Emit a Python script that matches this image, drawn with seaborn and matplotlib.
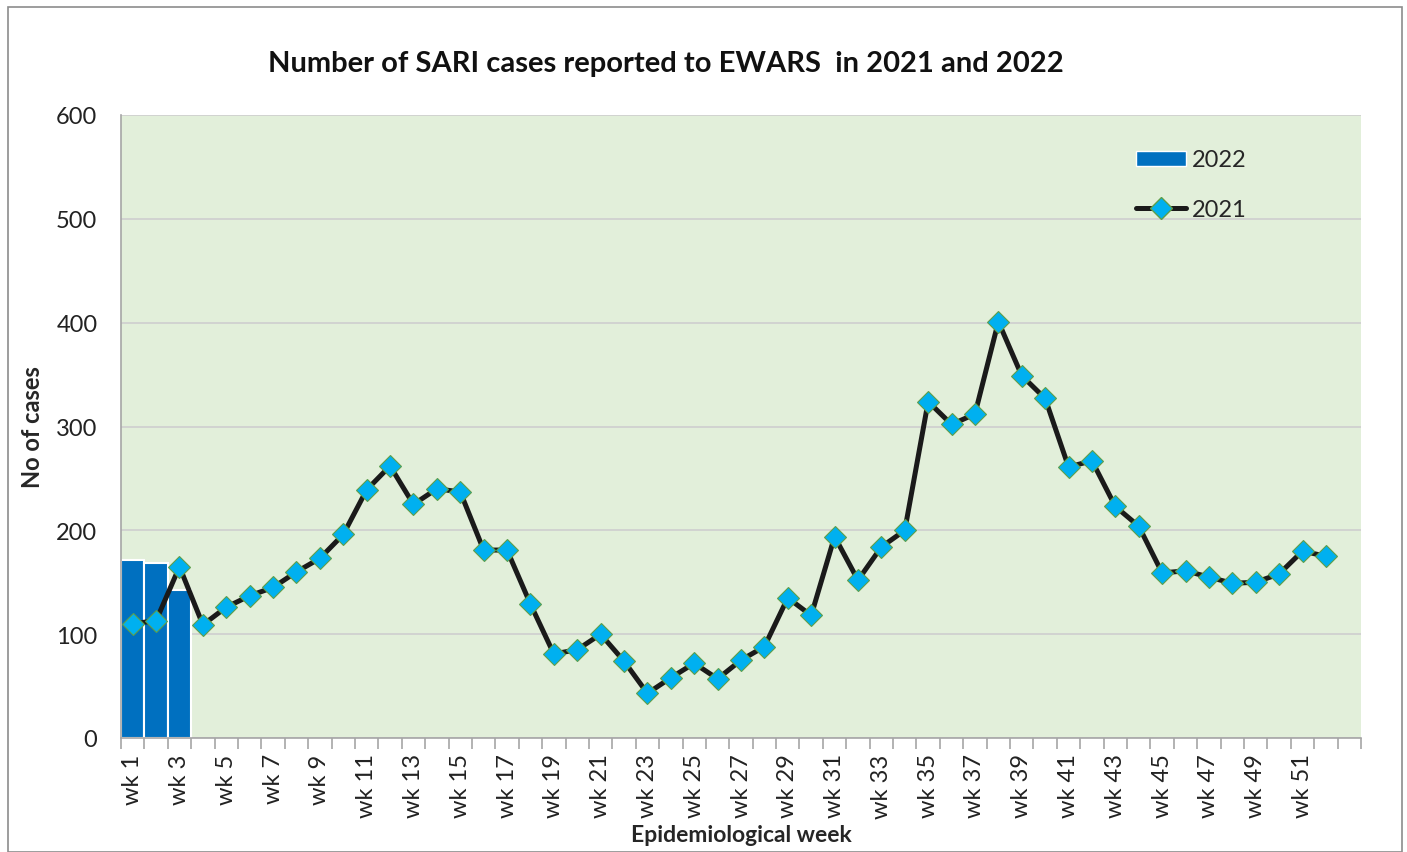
import numpy as np
import pandas as pd
import matplotlib
matplotlib.use("Agg")
import matplotlib.pyplot as plt
from matplotlib.patches import Rectangle, Patch
from matplotlib.lines import Line2D
import seaborn as sns

weeks = [f"wk {i}" for i in range(1, 54)]  # 53 category slots, last one empty
cases_2021 = [110, 113, 165, 109, 126, 137, 145, 160, 173, 196,
              239, 262, 225, 240, 237, 181, 181, 129, 81, 85,
              100, 74, 43, 58, 72, 57, 75, 88, 135, 118,
              194, 152, 184, 200, 324, 302, 312, 401, 349, 327,
              261, 267, 223, 204, 159, 161, 155, 149, 150, 158,
              180, 175]
weeks_2022 = ["wk 1", "wk 2", "wk 3"]
cases_2022 = [171, 169, 143]
tick_labels = [weeks[i] for i in range(0, 52, 2)]

sns.set_theme(style="white")
plt.rcParams['font.family'] = ['Lato', 'DejaVu Sans']

fig = plt.figure(figsize=(14.07, 8.53), dpi=100)
ax = fig.add_axes([121/1407, 1-739/853, (1361-121)/1407, (739-116)/853])
ax.set_facecolor("#E2EFDA")

# figure border
fig.patches.append(Rectangle((8/1407, 0), (1402-8)/1407, (853-8)/853, transform=fig.transFigure,
                             fill=False, edgecolor="#8C8C8C", linewidth=1.2))

df22 = pd.DataFrame({"week": weeks_2022, "cases": cases_2022})
sns.barplot(data=df22, x="week", y="cases", order=weeks, color="#0070C0",
            saturation=1, width=1.0, edgecolor="white", linewidth=1.5, ax=ax, zorder=2)

df21 = pd.DataFrame({"pos": np.arange(len(cases_2021)), "cases": cases_2021})
sns.lineplot(data=df21, x="pos", y="cases", color="#1A1A1A", linewidth=3.6,
             marker="D", markersize=11, markerfacecolor="#00B0F0",
             markeredgecolor="#5E9E4A", markeredgewidth=0.8, ax=ax, zorder=3)

n = len(weeks)
ax.set_xlim(-0.5, n - 0.5)
ax.set_ylim(0, 600)
ax.set_yticks(np.arange(0, 601, 100))
ax.yaxis.grid(True, color="#D0D0D0", linewidth=1.3)
ax.set_axisbelow(True)
ax.tick_params(axis="y", labelsize=17, colors="#222222", length=0, pad=17)

ax.set_xticks(np.arange(0, 52, 2))
ax.set_xticklabels(tick_labels, rotation=90, fontsize=17, color="#222222")
ax.set_xticks(np.arange(-0.5, n, 1), minor=True)
ax.tick_params(axis="x", which="major", length=0, pad=11)
ax.tick_params(axis="x", which="minor", length=8, width=1.2, color="#A6A6A6", direction="out", bottom=True)

for s in ["top", "right"]:
    ax.spines[s].set_visible(False)
for s in ["left", "bottom"]:
    ax.spines[s].set_color("#A6A6A6")
    ax.spines[s].set_linewidth(1.2)

ax.set_xlabel("Epidemiological week", fontsize=16.5, fontweight="bold", labelpad=5)
ax.set_ylabel("No of cases", fontsize=17, fontweight="bold", labelpad=9)
fig.text(666/1407, 1-64/853, "Number of SARI cases reported to EWARS  in 2021 and 2022",
         ha="center", va="center", fontsize=21, fontweight="bold", color="#111111")

handles = [Patch(facecolor="#0070C0", edgecolor="white", label="2022"),
           Line2D([], [], color="#1A1A1A", linewidth=3.6, marker="D", markersize=11,
                  markerfacecolor="#00B0F0", markeredgecolor="#5E9E4A", label="2021")]
ax.legend(handles=handles, loc="upper left", bbox_to_anchor=(0.8015, 0.979), frameon=False,
          fontsize=17, handlelength=2.1, labelspacing=1.22, handletextpad=0.25, handleheight=0.6)

fig.savefig("out.png", dpi=100)
